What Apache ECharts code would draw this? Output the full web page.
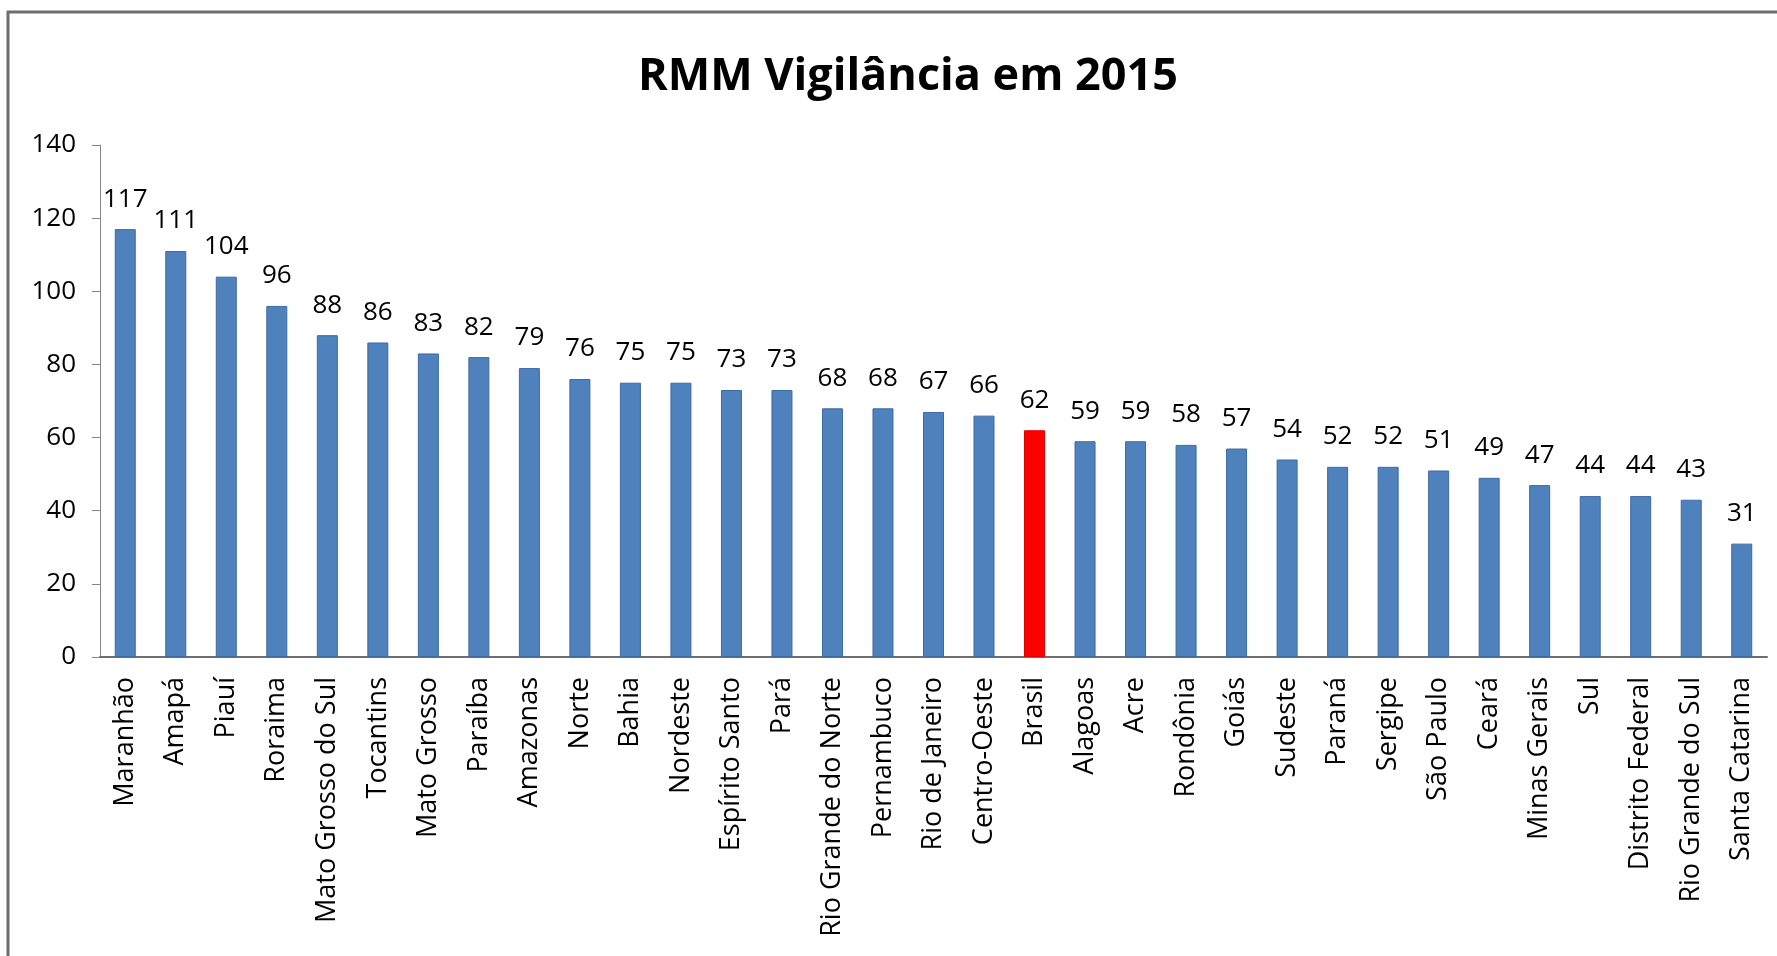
<!DOCTYPE html>
<html>
<head>
<meta charset="utf-8">
<title>RMM Vigilância em 2015</title>
<script src="https://cdn.jsdelivr.net/npm/echarts@6/dist/echarts.min.js"></script>
<style>
	html, body { margin: 0; padding: 0; background: #fff; }
	#main { width: 1777px; height: 956px; }
</style>
</head>
<body>
<div id="main"></div>
<script>
var titulo = 'RMM Vigilância em 2015';

var locais = ['Maranhão', 'Amapá', 'Piauí', 'Roraima', 'Mato Grosso do Sul', 'Tocantins',
	'Mato Grosso', 'Paraíba', 'Amazonas', 'Norte', 'Bahia', 'Nordeste', 'Espírito Santo',
	'Pará', 'Rio Grande do Norte', 'Pernambuco', 'Rio de Janeiro', 'Centro-Oeste', 'Brasil',
	'Alagoas', 'Acre', 'Rondônia', 'Goiás', 'Sudeste', 'Paraná', 'Sergipe', 'São Paulo',
	'Ceará', 'Minas Gerais', 'Sul', 'Distrito Federal', 'Rio Grande do Sul', 'Santa Catarina'];

var rmm = [117, 111, 104, 96, 88, 86, 83, 82, 79, 76, 75, 75, 73, 73, 68, 68, 67, 66, 62,
	59, 59, 58, 57, 54, 52, 52, 51, 49, 47, 44, 44, 43, 31];

var destaque = 'Brasil';

var chart = echarts.init(document.getElementById('main'));

var dados = [];
for (var i = 0; i < locais.length; i++) {
	var item = { value: rmm[i] };
	if (locais[i] == destaque) {
		item.itemStyle = { color: '#ff0000', borderColor: '#e00000' };
	}
	dados.push(item);
}

var option = {
	backgroundColor: '#fff',
	animation: false,
	title: {
		text: titulo,
		left: 633,
		top: 50,
		textStyle: {
			fontFamily: 'Open Sans, sans-serif',
			fontWeight: 'bold',
			fontSize: 45,
			color: '#000'
		}
	},
	graphic: [{
		// moldura do gráfico
		type: 'rect',
		shape: { x: 8, y: 12, width: 2000, height: 1200 },
		style: { fill: 'none', stroke: '#6e6e6e', lineWidth: 3 },
		silent: true
	}],
	grid: {
		left: 100,
		right: 10,
		top: 145,
		bottom: 299
	},
	xAxis: {
		type: 'category',
		data: locais,
		axisLine: { lineStyle: { color: '#6e6e6e', width: 2 } },
		axisTick: { show: false },
		axisLabel: {
			interval: 0,
			rotate: 90,
			margin: 20,
			color: '#000',
			fontFamily: 'Open Sans, sans-serif',
			fontSize: 27
		}
	},
	yAxis: {
		type: 'value',
		min: 0,
		max: 140,
		interval: 20,
		axisLine: { show: true, lineStyle: { color: '#868686', width: 1 } },
		axisTick: { show: true, length: 8, lineStyle: { color: '#868686' } },
		splitLine: { show: false },
		axisLabel: {
			margin: 24,
			color: '#000',
			fontFamily: 'Open Sans, sans-serif',
			fontSize: 26
		}
	},
	series: [{
		type: 'bar',
		data: dados,
		barWidth: 21,
		itemStyle: {
			color: '#4f81bd',
			borderColor: '#3d6aa3',
			borderWidth: 1
		},
		label: {
			show: true,
			position: 'top',
			distance: 17,
			color: '#000',
			fontFamily: 'Open Sans, sans-serif',
			fontSize: 26
		}
	}]
};

chart.setOption(option);
</script>
</body>
</html>
